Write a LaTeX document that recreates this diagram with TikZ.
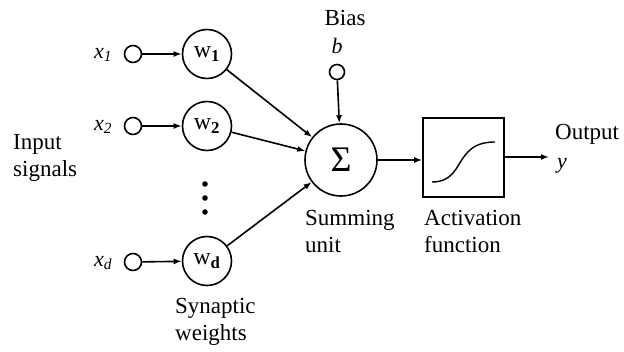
\documentclass[tikz,border=0pt]{standalone}
\usepackage{fontspec}
\setmainfont{Liberation Serif}
\usetikzlibrary{arrows.meta}
\begin{document}
\begin{tikzpicture}[x=1pt,y=-1pt,
  lbl/.style={font=\fontsize{23}{27}\selectfont, align=left, inner sep=0pt},
  xl/.style={inner sep=0pt, font=\fontsize{22}{24}\selectfont\itshape},
  inp/.style={circle, draw, line width=1.6pt, minimum size=17pt, inner sep=0pt},
  wt/.style={circle, draw, line width=1.6pt, minimum size=49pt, inner sep=0pt, font=\fontsize{24}{26}\selectfont},
  conn/.style={line width=1.6pt, -{Latex[length=8pt,width=6pt]}}]
\useasboundingbox (0,0) rectangle (624,352);
% inputs
\node[inp] (c1) at (133,54) {};
\node[inp] (c2) at (133,126) {};
\node[inp] (cd) at (133,262) {};
\node[xl] (x1) at (103,55) {x\textsubscript{1}};
\node[xl] (x2) at (103,127) {x\textsubscript{2}};
\node[xl] (xd) at (103,263) {x\textsubscript{d}};
% weights
\node[wt] (w1) at (207,54) {w\textsubscript{\textbf{1}}};
\node[wt] (w2) at (207,126) {w\textsubscript{\textbf{2}}};
\node[wt] (wd) at (207,261) {w\textsubscript{\textbf{d}}};
\fill (205,184) circle (2.8pt);
\fill (205,198) circle (2.8pt);
\fill (205,212) circle (2.8pt);
% summing
\node[circle, draw, line width=1.6pt, minimum size=72pt, inner sep=0pt, font=\fontsize{36}{38}\selectfont] (sum) at (341,160) {Σ};
\node[inp, minimum size=15pt] (b) at (337,72) {};
\node[lbl] (bias) at (345,18) {Bias};
\node[xl] (bl) at (337,46) {b};
% activation
\node[draw, line width=1.6pt, minimum width=81pt, minimum height=79pt, inner sep=0pt] (act) at (463.5,157.5) {};
\draw[line width=1.4pt] (432,182) .. controls (452,182) and (456,168) .. (463,158) .. controls (470,148) and (478,142) .. (495,142);
\coordinate (out) at (549,157);
% connectors
\draw[conn] (c1) -- (w1);
\draw[conn] (c2) -- (w2);
\draw[conn] (cd) -- (wd);
\draw[conn] (w1) -- (sum);
\draw[conn] (w2) -- (sum);
\draw[conn] (wd) -- (sum);
\draw[conn] (b) -- (sum);
\draw[conn] (sum.east) -- (sum.east -| act.west);
\draw[conn] (act.east |- out) -- (out);
% labels
\node[lbl, anchor=west] (ins) at (13,158) {Input\\signals};
\node[lbl, anchor=north west] (syn) at (175,298) {Synaptic\\weights};
\node[lbl, anchor=north west] (summ) at (305,210) {Summing\\unit};
\node[lbl, anchor=north west] (actl) at (424,210) {Activation\\function};
\node[lbl, anchor=west] (outl) at (555,134) {Output};
\node[xl] (yl) at (562,166) {y};
\end{tikzpicture}
\end{document}
